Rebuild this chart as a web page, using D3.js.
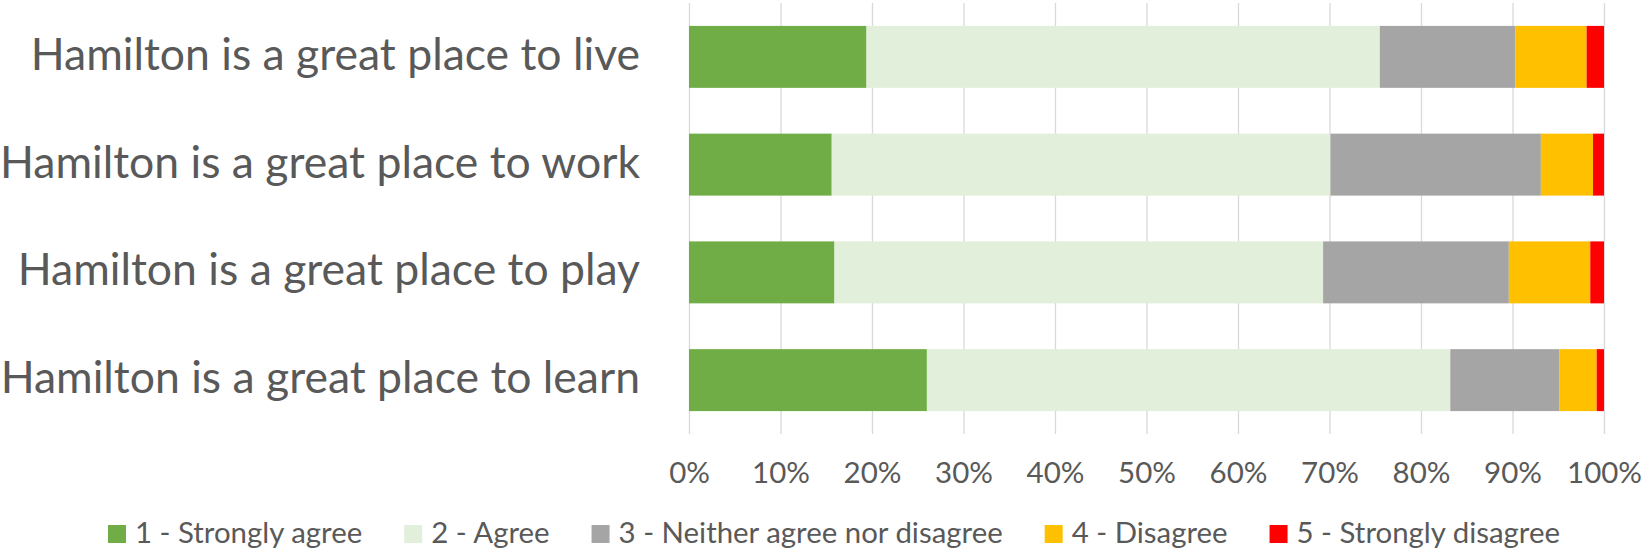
<!DOCTYPE html>
<html>
<head>
<meta charset="utf-8">
<script src="https://cdn.jsdelivr.net/npm/d3@7"></script>
<style>
  body { margin: 0; background: #fff; }
  text { font-family: Lato, 'Open Sans', sans-serif; fill: #595959; }
</style>
</head>
<body>
<svg id="chart"></svg>
<script>
// survey statements, top to bottom
var categories = [
  'Hamilton is a great place to live',
  'Hamilton is a great place to work',
  'Hamilton is a great place to play',
  'Hamilton is a great place to learn'
];

var seriesNames = [
  '1 - Strongly agree',
  '2 - Agree',
  '3 - Neither agree nor disagree',
  '4 - Disagree',
  '5 - Strongly disagree'
];

// percent of responses, same order as categories
var stronglyAgree = [19.4, 15.6, 15.9, 26.0];
var agree = [56.1, 54.5, 53.4, 57.2];
var neither = [14.8, 23.0, 20.3, 11.9];
var disagree = [7.8, 5.7, 8.9, 4.1];
var stronglyDisagree = [1.9, 1.2, 1.5, 0.8];

var tickValues = [0, 10, 20, 30, 40, 50, 60, 70, 80, 90, 100];

var colors = ['#70ad47', '#e2efda', '#a5a5a5', '#ffc000', '#ff0000'];

var width = 1644;
var height = 549;
var margin = {top: 3, right: 40, left: 689, bottom: 115};
var plotH = height - margin.top - margin.bottom;

var rows = categories.map(function(c, i) {
  return {
    category: c,
    s1: stronglyAgree[i],
    s2: agree[i],
    s3: neither[i],
    s4: disagree[i],
    s5: stronglyDisagree[i]
  };
});
var keys = ['s1', 's2', 's3', 's4', 's5'];

var x = d3.scaleLinear()
  .domain([0, 100])
  .range([margin.left, width - margin.right]);

var y = d3.scaleBand()
  .domain(categories)
  .range([margin.top, margin.top + plotH])
  .paddingInner(0.425)
  .paddingOuter(0.2125);

var color = d3.scaleOrdinal().domain(keys).range(colors);

var svg = d3.select('#chart')
  .attr('width', width)
  .attr('height', height);

// gridlines + tick labels
var xAxis = svg.append('g')
  .attr('transform', 'translate(0,' + (margin.top + plotH) + ')')
  .call(d3.axisBottom(x)
    .tickValues(tickValues)
    .tickSize(-plotH)
    .tickFormat(function(d) { return d + '%'; }));

xAxis.select('.domain').remove();
xAxis.selectAll('.tick line')
  .attr('stroke', '#d9d9d9')
  .attr('stroke-width', 1.3);
xAxis.selectAll('.tick text')
  .attr('y', 49)
  .attr('dy', 0)
  .style('font-size', '29.5px')
  .style('fill', '#595959');

// stacked bars
var stacked = d3.stack().keys(keys)(rows);

svg.append('g')
  .selectAll('g')
  .data(stacked)
  .enter().append('g')
    .attr('fill', function(d) { return color(d.key); })
  .selectAll('rect')
  .data(function(d) { return d; })
  .enter().append('rect')
    .attr('x', function(d) { return x(d[0]); })
    .attr('width', function(d) { return x(d[1]) - x(d[0]); })
    .attr('y', function(d) { return y(d.data.category); })
    .attr('height', y.bandwidth());

// category labels
var yAxis = svg.append('g')
  .attr('transform', 'translate(' + margin.left + ',0)')
  .call(d3.axisLeft(y).tickSize(0).tickPadding(49));

yAxis.select('.domain').remove();
yAxis.selectAll('.tick text')
  .attr('dy', '0.29em')
  .style('font-size', '44.5px')
  .style('fill', '#595959');

// legend, centred under the chart
var legend = svg.append('g').attr('class', 'legend');
var cursor = 0;
seriesNames.forEach(function(name, i) {
  var item = legend.append('g').attr('transform', 'translate(' + cursor + ',0)');
  item.append('rect')
    .attr('x', 0)
    .attr('y', 525)
    .attr('width', 18)
    .attr('height', 18)
    .attr('fill', colors[i]);
  var t = item.append('text')
    .attr('x', 27)
    .attr('y', 542.7)
    .style('font-size', '29.4px')
    .text(name);
  cursor += 27 + t.node().getComputedTextLength() + 42;
});
var legendW = cursor - 42;
legend.attr('transform', 'translate(' + (834 - legendW / 2) + ',0)');
</script>
</body>
</html>
